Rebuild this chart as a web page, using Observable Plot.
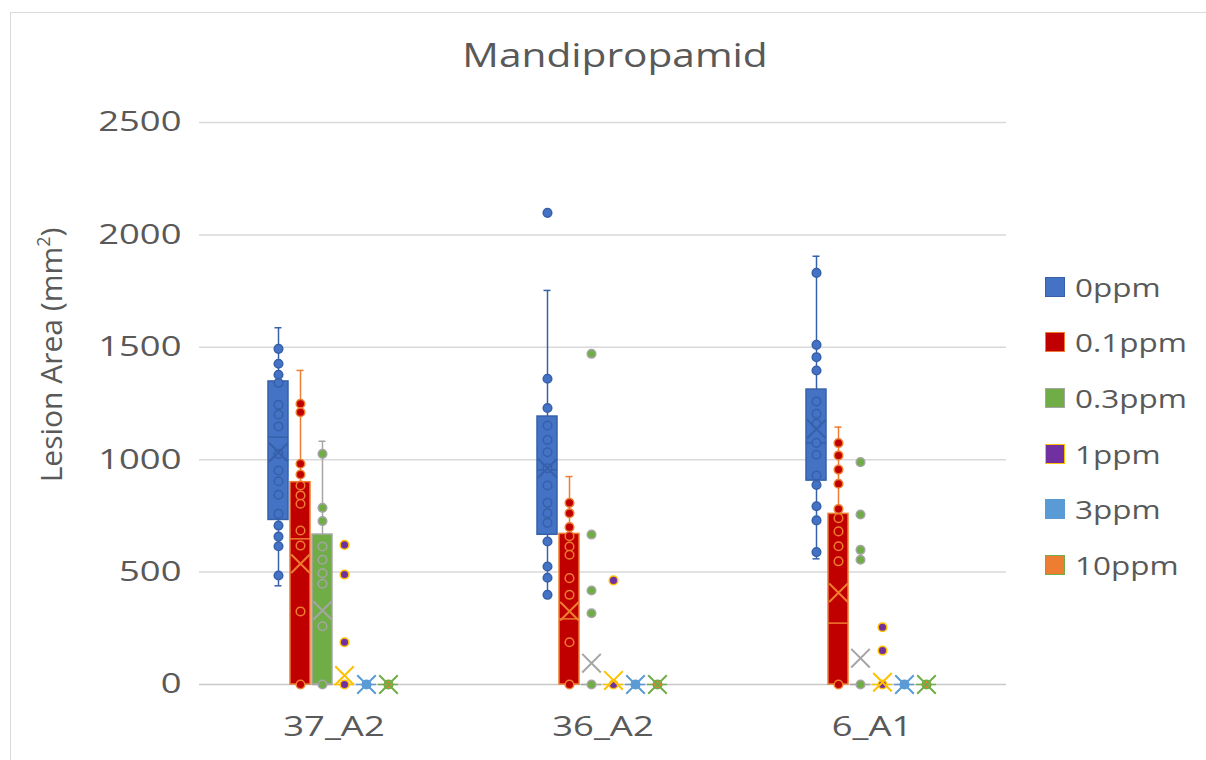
<!DOCTYPE html>
<html>
<head>
<meta charset="utf-8">
<script src="https://cdn.jsdelivr.net/npm/d3@7"></script>
<script src="https://cdn.jsdelivr.net/npm/@observablehq/plot@0.6"></script>
<style>
  html, body { margin: 0; padding: 0; background: #fff; overflow: hidden; }
  #chart { position: relative; width: 1206px; height: 760px; font-family: "Open Sans", sans-serif; color: #595959; overflow: hidden; }
  #frame { position: absolute; left: 10px; top: 12px; width: 1300px; height: 900px; border: 1.5px solid #d9d9d9; box-sizing: border-box; }
  #plot { position: absolute; left: 0; top: 0; }
  #title { position: absolute; left: 615px; top: 39px; font-size: 32px; line-height: 32px; white-space: nowrap; transform: translateX(-50%) scaleX(1.27); }
  #ylabel { position: absolute; left: 51px; top: 355px; font-size: 30px; line-height: 30px; white-space: nowrap; transform: translate(-50%, -50%) rotate(-90deg); }
  #ylabel sup { font-size: 18px; line-height: 0; vertical-align: 12px; }
  #legend { position: absolute; left: 1045px; top: 259px; }
  .row { display: flex; align-items: center; height: 55.6px; }
  .swatch { width: 20px; height: 20px; box-sizing: border-box; border: 1.5px solid; }
  .label { margin-left: 10px; font-size: 26px; line-height: 26px; white-space: nowrap; transform: scaleX(1.21); transform-origin: left center; }
</style>
</head>
<body>
<div id="chart">
  <div id="frame"></div>
  <div id="plot"></div>
  <div id="title">Mandipropamid</div>
  <div id="ylabel">Lesion Area (mm<sup>2</sup>)</div>
  <div id="legend"></div>
</div>
<script>
// Isolates and fungicide concentrations
const categories = ["37_A2", "36_A2", "6_A1"];
const series = ["0ppm", "0.1ppm", "0.3ppm", "1ppm", "3ppm", "10ppm"];
const yTicks = [0, 500, 1000, 1500, 2000, 2500];

// Individual lesion areas (mm²), one list per isolate: 37_A2, 36_A2, 6_A1
const pts0ppm = [
  [1493, 1427, 1378, 1342, 1244, 1201, 1148, 1026, 952, 904, 844, 759, 707, 658, 615, 485],
  [2098, 1360, 1230, 1152, 1088, 1033, 962, 885, 808, 762, 719, 636, 525, 475, 399],
  [1831, 1511, 1456, 1397, 1259, 1204, 1160, 1075, 1022, 930, 888, 793, 730, 589]
];
const pts01ppm = [
  [1249, 1211, 982, 934, 885, 841, 804, 685, 618, 325, 0],
  [808, 762, 700, 660, 614, 577, 473, 399, 188, 0],
  [1074, 1019, 956, 893, 781, 740, 681, 615, 548, 0]
];
const pts03ppm = [
  [1026, 786, 727, 614, 555, 495, 448, 259, 0],
  [1471, 667, 418, 317, 0],
  [989, 756, 599, 555, 0]
];
const pts1ppm = [[621, 489, 188, 0], [463, 0], [255, 151, 0]];
const pts3ppm = [[0], [0], [0]];
const pts10ppm = [[0], [0], [0]];

// Box summaries: [lower whisker, Q1, median, Q3, upper whisker, mean] per isolate
const box0ppm = [[439, 732, 1100, 1348, 1587, 1033], [399, 666, 955, 1192, 1753, 962], [559, 907, 1075, 1312, 1905, 1137]];
const box01ppm = [[0, 0, 648, 900, 1397, 537], [0, 0, 292, 670, 925, 326], [0, 0, 273, 759, 1145, 408]];
const box03ppm = [[0, 0, 0, 667, 1082, 329], [0, 0, 0, 0, 0, 95], [0, 0, 0, 0, 0, 117]];
const box1ppm = [[0, 0, 0, 0, 0, 40], [0, 0, 0, 0, 0, 18], [0, 0, 0, 0, 0, 10]];
const box3ppm = [[0, 0, 0, 0, 0, 0], [0, 0, 0, 0, 0, 0], [0, 0, 0, 0, 0, 0]];
const box10ppm = [[0, 0, 0, 0, 0, 0], [0, 0, 0, 0, 0, 0], [0, 0, 0, 0, 0, 0]];

// Series styling: box/marker fill and outline colours
const fills = ["#4472C4", "#C00000", "#70AD47", "#7030A0", "#5B9BD5", "#ED7D31"];
const lines = ["#3660AA", "#ED7D31", "#A5A5A5", "#FFC000", "#5B9BD5", "#70AD47"];

const pointSets = [pts0ppm, pts01ppm, pts03ppm, pts1ppm, pts3ppm, pts10ppm];
const boxSets = [box0ppm, box01ppm, box03ppm, box1ppm, box3ppm, box10ppm];

const points = [];
const boxes = [];
series.forEach((s, i) => {
  categories.forEach((c, j) => {
    pointSets[i][j].forEach(v => points.push({series: s, cat: c, value: v, fill: fills[i], line: lines[i]}));
    const [lo, q1, med, q3, hi, mean] = boxSets[i][j];
    boxes.push({series: s, cat: c, lo, q1, med, q3, hi, mean, fill: fills[i], line: lines[i]});
  });
});

const chart = Plot.plot({
  width: 1206,
  height: 760,
  marginLeft: 198,
  marginRight: 199,
  marginTop: 122,
  marginBottom: 76,
  style: {fontFamily: "'Open Sans', sans-serif", fontSize: "28px", color: "#595959", background: "transparent"},
  fx: {domain: categories, padding: 0, label: null},
  x: {domain: series, paddingInner: 0.075, paddingOuter: 2.98, axis: null},
  y: {domain: [0, 2500]},
  color: {type: "identity"},
  marks: [
    Plot.gridY(yTicks.slice(1), {stroke: "#d9d9d9", strokeOpacity: 1, strokeWidth: 1.5}),
    Plot.ruleY([0], {stroke: "#c8c8c8", strokeWidth: 1.5}),
    Plot.axisY({ticks: yTicks, tickFormat: d => String(d), tickSize: 0, tickPadding: 18, label: null, fontSize: 28}),
    Plot.axisFx({anchor: "bottom", tickSize: 0, tickPadding: 32, label: null, fontSize: 28}),
    // whiskers
    Plot.ruleX(boxes, {fx: "cat", x: "series", y1: "q3", y2: "hi", stroke: "line", strokeWidth: 1.5}),
    Plot.ruleX(boxes, {fx: "cat", x: "series", y1: "lo", y2: "q1", stroke: "line", strokeWidth: 1.5}),
    Plot.tickY(boxes.filter(d => d.hi > d.q3), {fx: "cat", x: "series", y: "hi", stroke: "line", strokeWidth: 1.5, insetLeft: 6.5, insetRight: 6.5}),
    Plot.tickY(boxes.filter(d => d.lo < d.q1), {fx: "cat", x: "series", y: "lo", stroke: "line", strokeWidth: 1.5, insetLeft: 6.5, insetRight: 6.5}),
    // interquartile boxes
    Plot.barY(boxes.filter(d => d.q3 > d.q1), {fx: "cat", x: "series", y1: "q1", y2: "q3", fill: "fill", stroke: "line", strokeWidth: 1.5}),
    // medians
    Plot.tickY(boxes, {fx: "cat", x: "series", y: "med", stroke: "line", strokeWidth: 1.5}),
    // individual lesions
    Plot.dot(points, {fx: "cat", x: "series", y: "value", r: 4.3, fill: "fill", stroke: "line", strokeWidth: 1.5}),
    // means
    Plot.dot(boxes, {fx: "cat", x: "series", y: "mean", symbol: "times", r: 8.5, stroke: "line", strokeWidth: 2, fill: "none"})
  ]
});

// widen tick labels to the chart's broad lettering
chart.querySelectorAll('g[aria-label="y-axis tick label"] text, g[aria-label="fx-axis tick label"] text').forEach(t => {
  const tr = t.getAttribute("transform") || "";
  t.setAttribute("transform", tr + " scale(1.3,1)");
});

document.getElementById("plot").appendChild(chart);

// legend
const legend = d3.select("#legend");
series.forEach((s, i) => {
  const row = legend.append("div").attr("class", "row");
  row.append("div").attr("class", "swatch").style("background", fills[i]).style("border-color", lines[i]);
  row.append("div").attr("class", "label").text(s);
});
</script>
</body>
</html>
